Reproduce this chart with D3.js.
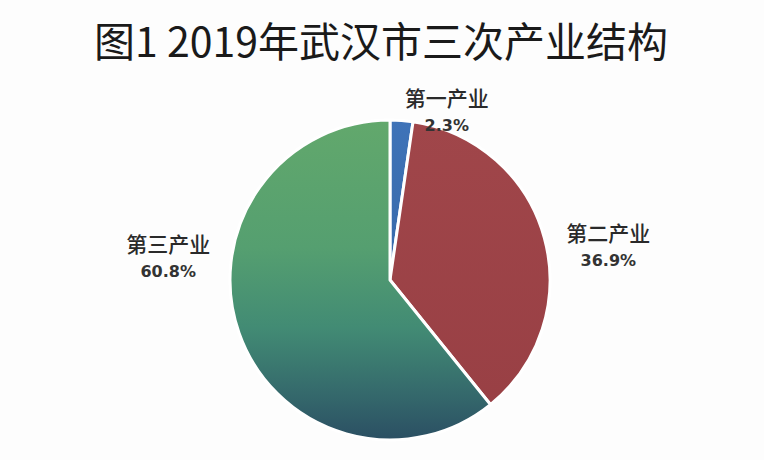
<!DOCTYPE html>
<html><head><meta charset="utf-8">
<script src="https://cdn.jsdelivr.net/npm/d3@7"></script>
<style>html,body{margin:0;padding:0;background:#fff;}svg{display:block;}</style>
</head><body>
<script>
const categories = ["第一产业", "第二产业", "第三产业"];
const values = [2.3, 36.9, 60.8];
const valueLabels = ["2.3%", "36.9%", "60.8%"];
const title = "图1 2019年武汉市三次产业结构";

const W = 764, H = 460, cx = 390, cy = 280, R = 160;
const svg = d3.select("body").append("svg").attr("width", W).attr("height", H);
svg.append("rect").attr("width", W).attr("height", H).attr("fill", "#fdfdfd");

const defs = svg.append("defs");
function grad(id, stops) {
  const g = defs.append("linearGradient").attr("id", id).attr("gradientUnits", "userSpaceOnUse")
    .attr("x1", 0).attr("y1", -R).attr("x2", 0).attr("y2", R);
  stops.forEach(s => g.append("stop").attr("offset", s[0]).attr("stop-color", s[1]));
}
grad("gBlue", [[0, "#3f73b8"], [1, "#2f5f9a"]]);
grad("gRed", [[0, "#a0464a"], [1, "#983f44"]]);
grad("gGreen", [[0, "#62a86c"], [0.4, "#559f70"], [0.65, "#428b74"], [0.85, "#356a6c"], [1, "#2b4f63"]]);
const fills = ["url(#gBlue)", "url(#gRed)", "url(#gGreen)"];

svg.append("text").attr("x", 381).attr("y", 57).attr("text-anchor", "middle")
  .attr("font-family", "'Noto Sans CJK SC', 'Noto Sans', sans-serif")
  .attr("font-size", 41).attr("fill", "#1a1a1a").text(title);

const pie = d3.pie().sort(null).value(d => d)(values);
const arc = d3.arc().innerRadius(0).outerRadius(R);
const gp = svg.append("g").attr("transform", `translate(${cx},${cy})`);
gp.selectAll("path").data(pie).join("path")
  .attr("d", arc).attr("fill", (d, i) => fills[i])
  .attr("stroke", "#fff").attr("stroke-width", 3).attr("stroke-linejoin", "round");

// label placement (polar: angle in degrees from 12 o'clock clockwise, radius)
const labelPolar = [[18.6, 178], [81.1, 221], [-84.1, 223]];
const lg = gp.selectAll("g.lab").data(pie).join("g").attr("class", "lab")
  .attr("transform", (d, i) => {
    const a = labelPolar[i][0] * Math.PI / 180, r = labelPolar[i][1];
    return `translate(${r * Math.sin(a)},${-r * Math.cos(a)})`;
  });
lg.append("text").attr("y", -5).attr("text-anchor", "middle")
  .attr("font-family", "'Noto Sans CJK SC', sans-serif").attr("font-weight", 500)
  .attr("font-size", 21).attr("fill", "#2a2a2a").text((d, i) => categories[i]);
lg.append("text").attr("y", 20).attr("text-anchor", "middle")
  .attr("font-family", "'DejaVu Sans', sans-serif").attr("font-weight", "bold")
  .attr("font-size", 16).attr("fill", "#333").text((d, i) => valueLabels[i]);
</script>
</body></html>
